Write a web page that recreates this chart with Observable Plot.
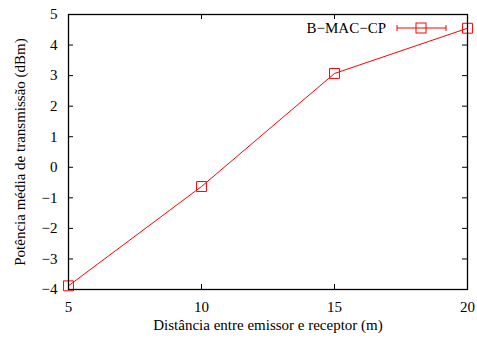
<!DOCTYPE html>
<html><head><meta charset="utf-8">
<script src="https://cdn.jsdelivr.net/npm/d3@7"></script>
<script src="https://cdn.jsdelivr.net/npm/@observablehq/plot@0.6"></script>
<style>
body{margin:0;background:#fff;font-family:'Liberation Serif',serif}
*{font-family:'Liberation Serif',serif !important}
</style>
</head><body><div id="chart"></div>
<script>
const distances = [5, 10, 15, 20];
const power = [-3.88, -0.63, 3.07, 4.55];
const xTicks = [5, 10, 15, 20];
const yTicks = [-4, -3, -2, -1, 0, 1, 2, 3, 4, 5];
const seriesName = "B\u2212MAC\u2212CP";
const data = distances.map((d, i) => ({x: d, y: power[i]}));

const W = 477, H = 340, mL = 68, mR = 10, mT = 14, mB = 51;
const pw = W - mL - mR, ph = H - mT - mB;
const font = "Liberation Serif";

function legend(index, scales, values, dims) {
  const g = d3.create("svg:g");
  const x0 = dims.width - dims.marginRight;
  const y = dims.marginTop + 14;
  g.append("text").attr("x", x0 - 81).attr("y", y).attr("text-anchor", "end")
    .attr("dy", "0.35em").attr("font-size", 15).attr("font-family", font).text(seriesName);
  g.append("line").attr("x1", x0 - 70).attr("x2", x0 - 21).attr("y1", y).attr("y2", y).attr("stroke", "red");
  for (const xx of [x0 - 70, x0 - 21]) g.append("line").attr("x1", xx).attr("x2", xx).attr("y1", y - 3).attr("y2", y + 3).attr("stroke", "red");
  g.append("rect").attr("x", x0 - 51).attr("y", y - 5).attr("width", 10).attr("height", 10).attr("fill", "none").attr("stroke", "red");
  return g.node();
}

const chart = Plot.plot({
  width: W, height: H,
  marginLeft: mL, marginRight: mR, marginTop: mT, marginBottom: mB,
  style: {fontFamily: font, fontSize: "15px", color: "black", background: "white"},
  x: {domain: [5, 20], ticks: xTicks},
  y: {domain: [-4, 5], ticks: yTicks},
  marks: [
    Plot.axisX(xTicks, {tickSize: 0, tickPadding: 12, fontSize: 15, fontFamily: font, label: null}),
    Plot.axisY(yTicks, {tickSize: 0, tickPadding: 11, fontSize: 15, fontFamily: font, label: null}),
    Plot.ruleX(xTicks, {x: d => d, insetTop: ph - 5, stroke: "black"}),
    Plot.ruleX(xTicks, {x: d => d, insetBottom: ph - 5, stroke: "black"}),
    Plot.ruleY(yTicks, {y: d => d, insetRight: pw - 5, stroke: "black"}),
    Plot.ruleY(yTicks, {y: d => d, insetLeft: pw - 5, stroke: "black"}),
    Plot.line(data, {x: "x", y: "y", stroke: "red", strokeWidth: 1}),
    Plot.dot(data, {x: "x", y: "y", symbol: "square", r: 5.6, stroke: "red", strokeWidth: 1, fill: "none"}),
    Plot.frame({stroke: "black", strokeWidth: 1.3}),
    Plot.text(["Distância entre emissor e receptor (m)"], {frameAnchor: "bottom", dy: 40, fontSize: 15, fontFamily: font, text: d => d}),
    Plot.text(["Potência média de transmissão (dBm)"], {frameAnchor: "left", textAnchor: "middle", dx: -48, rotate: -90, fontSize: 15, fontFamily: font, text: d => d}),
    legend
  ]
});
chart.querySelectorAll("style").forEach(s => {
  s.textContent = s.textContent.replace(/font-family\s*:[^;}]*;?/g, "").replace(/font\s*:[^;}]*;?/g, "");
});
chart.setAttribute("font-family", font);
chart.style.setProperty("font-family", "'Liberation Serif', serif", "important");
chart.querySelectorAll("g, text, tspan").forEach(el => {
  el.setAttribute("font-family", font);
  el.style.setProperty("font-family", "'Liberation Serif', serif", "important");
});
document.getElementById("chart").append(chart);
</script>
</body></html>
